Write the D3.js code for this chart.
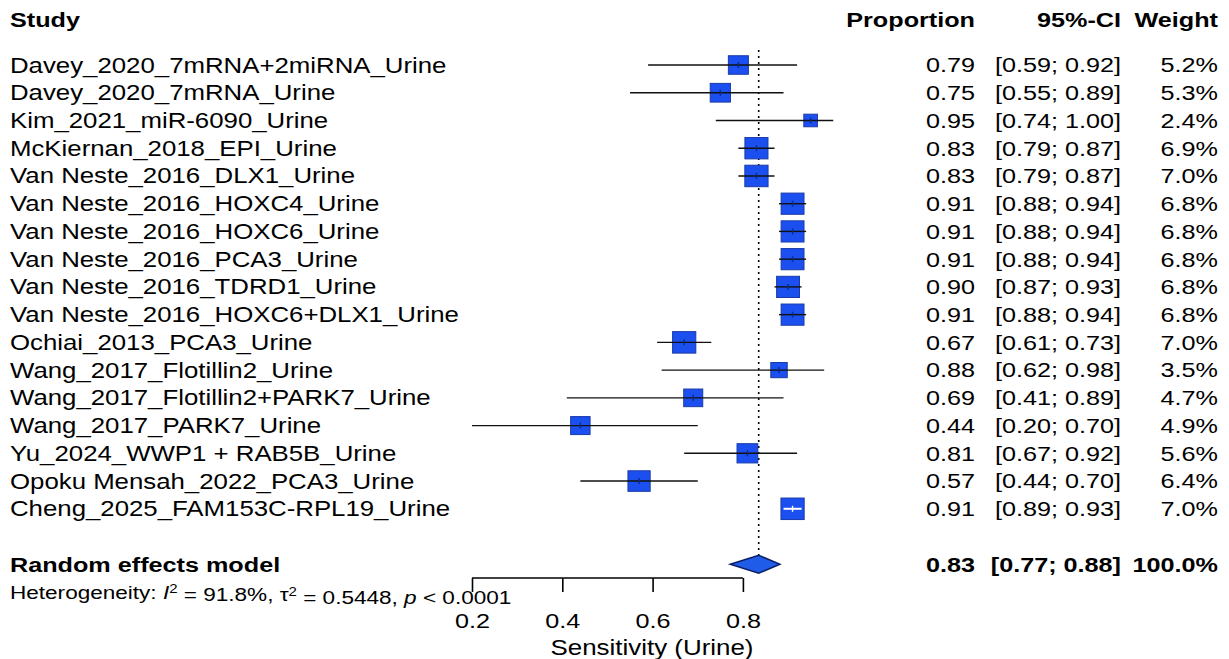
<!DOCTYPE html>
<html>
<head>
<meta charset="utf-8">
<script src="https://cdn.jsdelivr.net/npm/d3@7"></script>
<style>
  body { margin: 0; background: #fff; }
  text { font-family: "Liberation Sans", Arial, sans-serif; fill: #000; }
</style>
</head>
<body>
<div id="plot"></div>
<script>
// study data
var studies = [
  "Davey_2020_7mRNA+2miRNA_Urine",
  "Davey_2020_7mRNA_Urine",
  "Kim_2021_miR-6090_Urine",
  "McKiernan_2018_EPI_Urine",
  "Van Neste_2016_DLX1_Urine",
  "Van Neste_2016_HOXC4_Urine",
  "Van Neste_2016_HOXC6_Urine",
  "Van Neste_2016_PCA3_Urine",
  "Van Neste_2016_TDRD1_Urine",
  "Van Neste_2016_HOXC6+DLX1_Urine",
  "Ochiai_2013_PCA3_Urine",
  "Wang_2017_Flotillin2_Urine",
  "Wang_2017_Flotillin2+PARK7_Urine",
  "Wang_2017_PARK7_Urine",
  "Yu_2024_WWP1 + RAB5B_Urine",
  "Opoku Mensah_2022_PCA3_Urine",
  "Cheng_2025_FAM153C-RPL19_Urine"
];
var proportion = [0.79, 0.75, 0.95, 0.83, 0.83, 0.91, 0.91, 0.91, 0.90, 0.91, 0.67, 0.88, 0.69, 0.44, 0.81, 0.57, 0.91];
var lower      = [0.59, 0.55, 0.74, 0.79, 0.79, 0.88, 0.88, 0.88, 0.87, 0.88, 0.61, 0.62, 0.41, 0.20, 0.67, 0.44, 0.89];
var upper      = [0.92, 0.89, 1.00, 0.87, 0.87, 0.94, 0.94, 0.94, 0.93, 0.94, 0.73, 0.98, 0.89, 0.70, 0.92, 0.70, 0.93];
var weight     = [5.2, 5.3, 2.4, 6.9, 7.0, 6.8, 6.8, 6.8, 6.8, 6.8, 7.0, 3.5, 4.7, 4.9, 5.6, 6.4, 7.0];

// pooled estimate (random effects)
var pooled = [0.835, 0.772, 0.882];
var pooledLabels = ["0.83", "[0.77; 0.88]", "100.0%"];
var heterogeneity = { I2: "91.8%", tau2: "0.5448", p: "< 0.0001" };

var xTicks = [0.2, 0.4, 0.6, 0.8];
var headers = ["Study", "Proportion", "95%-CI", "Weight"];

var W = 1229, H = 659;
var sx = 1.2; // glyphs are slightly wide in the original

var svg = d3.select("#plot").append("svg")
  .attr("width", W)
  .attr("height", H);

var x = d3.scaleLinear().domain([0.2, 1.0]).range([472, 833.2]);
var row = d3.scaleLinear().domain([0, 19]).range([65, 592]);
var boxH = d3.scaleSqrt().domain([0, 7]).range([0, 21.5]);

var colProp = 975, colCI = 1121, colW = 1218;
var f2 = d3.format(".2f"), f1 = d3.format(".1f");

function label(x0, y0, str, anchor, size, bold) {
  return svg.append("text")
    .attr("transform", "translate(" + x0 + "," + y0 + ") scale(" + sx + ",1)")
    .attr("text-anchor", anchor)
    .attr("dy", "0.35em")
    .style("font-size", size + "px")
    .style("font-weight", bold ? "bold" : "normal")
    .text(str);
}

// headers
label(10, 20, headers[0], "start", 21, true);
label(colProp, 20, headers[1], "end", 21, true);
label(colCI, 20, headers[2], "end", 21, true);
label(colW, 20, headers[3], "end", 21, true);

// study rows
studies.forEach(function(s, i) {
  var y = row(i);
  label(10, y, s, "start", 21.5, false);
  label(colProp, y, f2(proportion[i]), "end", 21, false);
  label(colCI, y, "[" + f2(lower[i]) + "; " + f2(upper[i]) + "]", "end", 21, false);
  label(colW, y, f1(weight[i]) + "%", "end", 21, false);
});

// pooled line (dotted)
svg.append("line")
  .attr("x1", x(pooled[0])).attr("x2", x(pooled[0]))
  .attr("y1", 50).attr("y2", 556)
  .attr("stroke", "#000")
  .attr("stroke-width", 1.6)
  .attr("stroke-dasharray", "2,4");

// boxes
var g = svg.append("g");
g.selectAll("rect.box")
  .data(studies)
  .enter().append("rect")
  .attr("class", "box")
  .attr("x", function(d, i) { return x(proportion[i]) - boxH(weight[i]) * 1.08 / 2; })
  .attr("y", function(d, i) { return row(i) - boxH(weight[i]) / 2; })
  .attr("width", function(d, i) { return boxH(weight[i]) * 1.08; })
  .attr("height", function(d, i) { return boxH(weight[i]); })
  .attr("fill", "#1c4ff0")
  .attr("stroke", "#1a3aa8")
  .attr("stroke-width", 1);

// CI lines, white when inside the box
function inside(i) {
  var half = boxH(weight[i]) * 1.08 / 2;
  return x(upper[i]) - x(lower[i]) < 2 * half;
}
g.selectAll("line.ci")
  .data(studies)
  .enter().append("line")
  .attr("class", "ci")
  .attr("x1", function(d, i) { return x(lower[i]); })
  .attr("x2", function(d, i) { return x(upper[i]); })
  .attr("y1", function(d, i) { return row(i); })
  .attr("y2", function(d, i) { return row(i); })
  .attr("stroke", function(d, i) { return inside(i) ? "#fff" : "#111"; })
  .attr("stroke-width", function(d, i) { return inside(i) ? 2 : 1.4; });

g.selectAll("line.est")
  .data(studies)
  .enter().append("line")
  .attr("class", "est")
  .attr("x1", function(d, i) { return x(proportion[i]); })
  .attr("x2", function(d, i) { return x(proportion[i]); })
  .attr("y1", function(d, i) { return row(i) - 3; })
  .attr("y2", function(d, i) { return row(i) + 3; })
  .attr("stroke", function(d, i) { return inside(i) ? "#fff" : "#0c2a80"; })
  .attr("stroke-width", 1.4);

// random effects row
var yr = row(18);
label(10, yr, "Random effects model", "start", 21, true);
label(colProp, yr, pooledLabels[0], "end", 21, true);
label(colCI, yr, pooledLabels[1], "end", 21, true);
label(colW, yr, pooledLabels[2], "end", 21, true);

svg.append("path")
  .attr("d", "M" + x(pooled[1]) + "," + yr +
             "L" + x(pooled[0]) + "," + (yr - 9) +
             "L" + x(pooled[2]) + "," + yr +
             "L" + x(pooled[0]) + "," + (yr + 9) + "Z")
  .attr("fill", "#1f5ce8")
  .attr("stroke", "#0b1f66")
  .attr("stroke-width", 1.5);

// heterogeneity
var het = svg.append("text")
  .attr("transform", "translate(10," + row(19) + ") scale(" + sx + ",1)")
  .attr("dy", "0.35em")
  .style("font-size", "18.8px");
het.append("tspan").text("Heterogeneity: ");
het.append("tspan").style("font-style", "italic").text("I");
het.append("tspan").attr("dy", "-0.45em").style("font-size", "12.5px").text("2");
het.append("tspan").attr("dy", "0.45em").text(" = " + heterogeneity.I2 + ", \u03c4");
het.append("tspan").attr("dy", "-0.45em").style("font-size", "12.5px").text("2");
het.append("tspan").attr("dy", "0.45em").text(" = " + heterogeneity.tau2 + ", ");
het.append("tspan").style("font-style", "italic").text("p");
het.append("tspan").text(" " + heterogeneity.p);

// x axis
var axis = svg.append("g")
  .attr("transform", "translate(0,578)")
  .call(d3.axisBottom(x).tickValues(xTicks).tickSize(14).tickSizeOuter(0).tickFormat(d3.format(".1f")));
axis.select(".domain")
  .attr("d", "M" + x(0.2) + ",0H" + x(0.8))
  .attr("stroke", "#000").attr("stroke-width", 1.6);
axis.selectAll(".tick line").attr("stroke", "#000").attr("stroke-width", 1.6);
axis.selectAll(".tick text")
  .attr("y", 50)
  .attr("dy", 0)
  .attr("x", 0)
  .attr("transform", "scale(" + sx + ",1)")
  .style("font-size", "21px")
  .style("font-family", "Liberation Sans, Arial, sans-serif")
  .attr("fill", "#000");

label(652, 647, "Sensitivity (Urine)", "middle", 21.6, false);
</script>
</body>
</html>
